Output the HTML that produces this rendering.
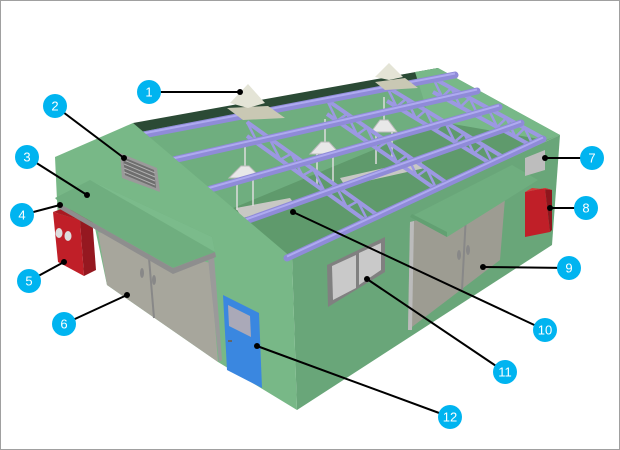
<!DOCTYPE html>
<html><head><meta charset="utf-8"><style>
html,body{margin:0;padding:0;background:#fff}
svg{display:block}
text{font-family:"Liberation Sans",sans-serif;font-size:13px;fill:#fff;text-anchor:middle}
</style></head><body>
<svg id="s" width="620" height="450" viewBox="0 0 620 450" xmlns="http://www.w3.org/2000/svg">
<rect x="0.5" y="0.5" width="619" height="449" fill="#fff" stroke="#a0a0a0"/>
<polygon points="133,125 438,68 560,135 292,258" fill="#6fae7f"/>
<polygon points="180,230 470,110 545,140 292,258" fill="#5f9a6c"/>
<polygon points="133,123 438,68 440,76 140,132" fill="#2b4a35"/>
<polygon points="415,72 438,68 560,135 545,140 430,120" fill="#78b888"/>
<polygon points="236,208 290,198 296,206 242,218" fill="#c8c8c4"/>
<polygon points="340,178 420,160 425,168 345,186" fill="#c8c8c4"/>
<g id="truss"></g>
<polygon points="292,258 560,135 552,245 297,410" fill="#69a679"/>
<polygon points="55,157 133,123 292,258 297,410 218,362 107,285 95,228 58,222" fill="#78b887"/>
<g id="pipesFront"></g>
<polygon points="120,153 157,168 160,192 122,178" fill="#9a9a9a"/>
<polygon points="123,157 154,170 156,188 125,175" fill="#6e6e6e"/>
<g stroke="#b0b0b0" stroke-width="1">
<line x1="124" y1="160" x2="155" y2="173"/><line x1="124" y1="164" x2="155" y2="177"/><line x1="124" y1="168" x2="155" y2="181"/><line x1="124" y1="172" x2="155" y2="185"/>
</g>
<polygon points="53,212 80,220 84,276 58,262" fill="#c01f28"/>
<polygon points="53,212 64,208 92,216 80,220" fill="#a81a22"/>
<polygon points="80,220 92,216 96,270 84,276" fill="#951820"/>
<ellipse cx="59" cy="233" rx="3.5" ry="5" fill="#ddd"/><ellipse cx="68" cy="236" rx="3.5" ry="5" fill="#ddd"/>
<polygon points="98,232 210,263 218,362 107,285" fill="#a7a69c"/>
<line x1="148" y1="246" x2="154" y2="318" stroke="#888" stroke-width="2"/>
<ellipse cx="142" cy="273" rx="2" ry="5" fill="#888"/><ellipse cx="154" cy="280" rx="2" ry="5" fill="#888"/>
<polygon points="208,258 214,256 222,360 219,362" fill="#9a9a9a"/>
<polygon points="55,198 90,180 212,237 215,252 173,268 62,205" fill="#6fae7f"/>
<polygon points="90,180 212,237 215,252" fill="#7bbb8b"/>
<polygon points="58,202 62,205 173,268 215,252 216,257 173,274 58,208" fill="#8e8e8e"/>
<polygon points="223,295 259,313 262,388 227,370" fill="#3a87e0"/>
<polygon points="228,305 250,316 251,337 229,326" fill="#aaa9b8"/>
<rect x="228" y="340" width="4" height="2" fill="#666"/>
<polygon points="327,265 385,237 385,272 328,307" fill="#808080"/>
<polygon points="332,266 356,255 356,288 333,300" fill="#c9c9c9"/>
<polygon points="359,253 381,243 381,270 359,285" fill="#c9c9c9"/>
<polygon points="410,222 505,198 500,260 408,330" fill="#9d9c92"/>
<polygon points="410,222 414,221 412,330 408,330" fill="#bbb"/>
<line x1="466" y1="215" x2="462" y2="290" stroke="#888" stroke-width="2"/>
<ellipse cx="459" cy="255" rx="2" ry="5" fill="#888"/><ellipse cx="468" cy="250" rx="2" ry="5" fill="#888"/>
<polygon points="410,217 512,165 538,180 447,237" fill="#6fae7f"/>
<polygon points="410,217 447,237 447,232 412,214" fill="#62a072"/>
<polygon points="525,158 545,150 545,170 525,176" fill="#bdbdbd"/>
<polygon points="525,192 545,188 550,232 525,237" fill="#c01f28"/>
<polygon points="545,188 552,190 552,230 550,232" fill="#8e161d"/>
<polygon points="525,192 532,188 552,190 545,188" fill="#d63a3a"/>
<polygon points="227,108 268,106 285,118 243,120" fill="#c9c8b4"/>
<polygon points="230,103 248,84 265,103 248,108" fill="#e4e4d6"/>
<polygon points="375,82 405,78 418,88 385,90" fill="#c9c8b4"/>
<polygon points="375,77 389,63 403,77 389,80" fill="#e4e4d6"/>
<g id="callouts" stroke="#000" stroke-width="2"></g>
</svg>
<script>
var NS="http://www.w3.org/2000/svg";
function el(p,t,a){var e=document.createElementNS(NS,t);for(var k in a)e.setAttribute(k,a[k]);p.appendChild(e);return e;}
var tr=document.getElementById('truss');
[[245,178,16],[325,154,15],[384,132,13]].forEach(function(l){
el(tr,'line',{x1:l[0],y1:l[1]-35,x2:l[0],y2:l[1]-10,stroke:'#ddd','stroke-width':1.5});
el(tr,'path',{d:'M'+(l[0]-l[2])+','+l[1]+' L'+(l[0]-4)+','+(l[1]-12)+' L'+(l[0]+4)+','+(l[1]-12)+' L'+(l[0]+l[2])+','+l[1]+' Z',fill:'#e8e8e8',stroke:'#bbb'});
el(tr,'line',{x1:l[0]-8,y1:l[1],x2:l[0]-8,y2:l[1]+32,stroke:'#ddd','stroke-width':1.5});
el(tr,'line',{x1:l[0]+8,y1:l[1],x2:l[0]+8,y2:l[1]+28,stroke:'#ddd','stroke-width':1.5});
});
var T=[[247,122,380,217],[327,100,447,183],[387,87,503,157],[433,78,543,138]];
T.forEach(function(t){
 var dx=t[2]-t[0],dy=t[3]-t[1];
 el(tr,'line',{x1:t[0],y1:t[1],x2:t[2],y2:t[3],stroke:'#9c98e2','stroke-width':4});
 el(tr,'line',{x1:t[0],y1:t[1]+14,x2:t[2],y2:t[3]+14,stroke:'#9c98e2','stroke-width':4});
 var d='';for(var i=0;i<=12;i++){var f=i/12;d+=(i?'L':'M')+(t[0]+dx*f)+','+(t[1]+dy*f+(i%2?14:0));}
 el(tr,'path',{d:d,fill:'none',stroke:'#9c98e2','stroke-width':2.5});
});
var L=[[143,135],[173,160],[207,190],[240,223],[287,258]],R=[[455,75],[477,91],[499,107],[521,123],[543,139]];
for(var i=0;i<5;i++){var g=i==4?document.getElementById('pipesFront'):tr;
el(g,'line',{x1:L[i][0],y1:L[i][1],x2:R[i][0],y2:R[i][1],stroke:'#8f8bd8','stroke-width':7,'stroke-linecap':'round'});
el(g,'line',{x1:L[i][0],y1:L[i][1]-1.5,x2:R[i][0],y2:R[i][1]-1.5,stroke:'#aeaaf0','stroke-width':2});}
var C=[[1,149,92,240,92],[2,55,106,124,158],[3,27,157,87,195],[4,22,215,60,205],[5,29,281,64,262],[6,64,324,127,295],[7,592,158,545,158],[8,586,208,550,208],[9,569,268,483,267],[10,545,330,293,212],[11,505,372,367,279],[12,450,417,257,346]];
var cg=document.getElementById('callouts');
C.forEach(function(c){
 el(cg,'line',{x1:c[1],y1:c[2],x2:c[3],y2:c[4]});
 el(cg,'circle',{cx:c[3],cy:c[4],r:3,fill:'#000',stroke:'none'});
 el(cg,'circle',{cx:c[1],cy:c[2],r:12,fill:'#00b4f0',stroke:'none'});
 var t=el(cg,'text',{x:c[1],y:c[2]+4.5,stroke:'none'});t.textContent=c[0];
});
</script>
</body></html>
